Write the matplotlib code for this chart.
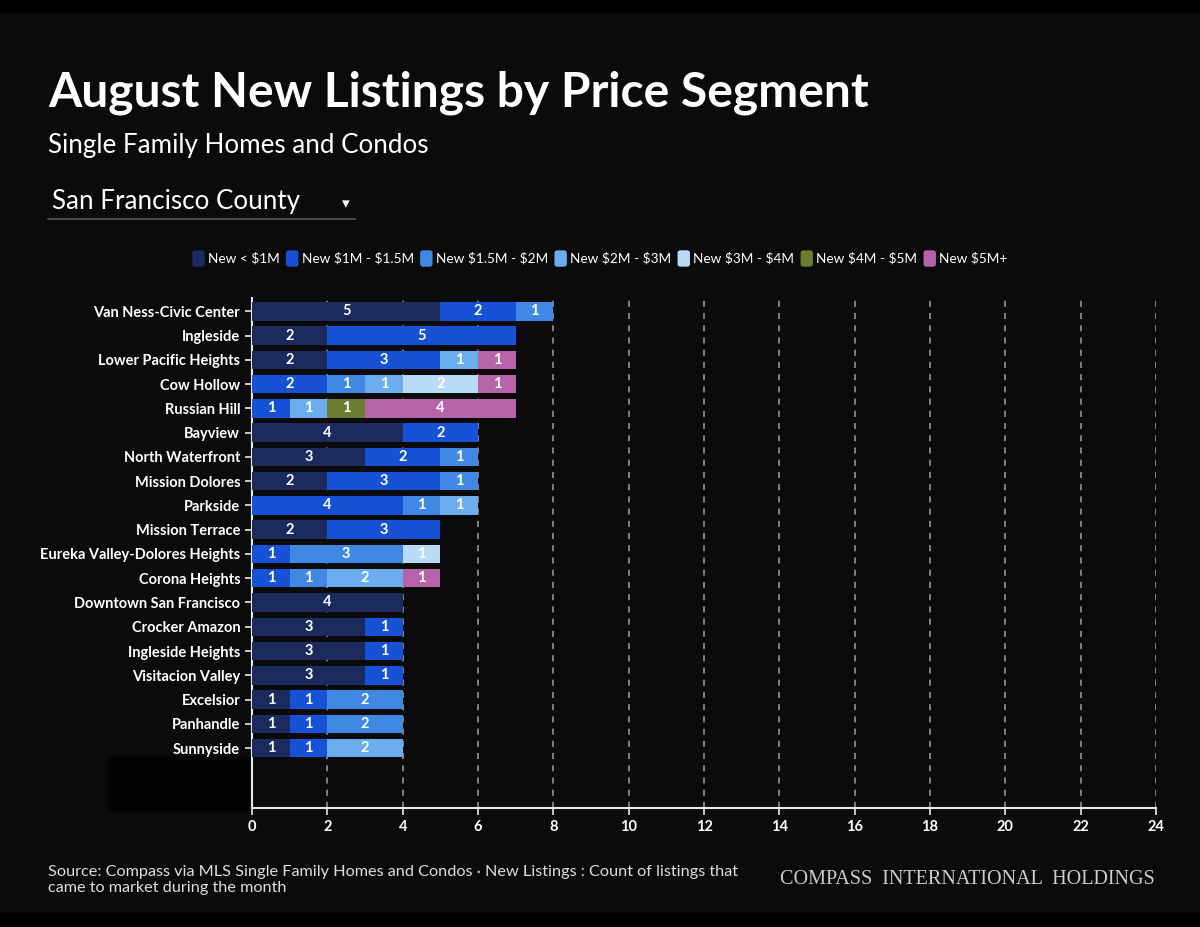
import numpy as np
import matplotlib.pyplot as plt
from matplotlib.patches import FancyBboxPatch, Rectangle
from matplotlib.lines import Line2D

neighborhoods = ['Van Ness-Civic Center', 'Ingleside', 'Lower Pacific Heights', 'Cow Hollow',
                 'Russian Hill', 'Bayview', 'North Waterfront', 'Mission Dolores', 'Parkside',
                 'Mission Terrace', 'Eureka Valley-Dolores Heights', 'Corona Heights',
                 'Downtown San Francisco', 'Crocker Amazon', 'Ingleside Heights',
                 'Visitacion Valley', 'Excelsior', 'Panhandle', 'Sunnyside']

segments = ['New < \\$1M', 'New \\$1M - \\$1.5M', 'New \\$1.5M - \\$2M', 'New \\$2M - \\$3M',
            'New \\$3M - \\$4M', 'New \\$4M - \\$5M', 'New \\$5M+']

under_1m = [5, 2, 2, 0, 0, 4, 3, 2, 0, 2, 0, 0, 4, 3, 3, 3, 1, 1, 1]
m1_to_15 = [2, 5, 3, 2, 1, 2, 2, 3, 4, 3, 1, 1, 0, 1, 1, 1, 1, 1, 1]
m15_to_2 = [1, 0, 0, 1, 0, 0, 1, 1, 1, 0, 3, 1, 0, 0, 0, 0, 2, 2, 0]
m2_to_3 = [0, 0, 1, 1, 1, 0, 0, 0, 1, 0, 0, 2, 0, 0, 0, 0, 0, 0, 2]
m3_to_4 = [0, 0, 0, 2, 0, 0, 0, 0, 0, 0, 1, 0, 0, 0, 0, 0, 0, 0, 0]
m4_to_5 = [0, 0, 0, 0, 1, 0, 0, 0, 0, 0, 0, 0, 0, 0, 0, 0, 0, 0, 0]
m5_plus = [0, 0, 1, 1, 4, 0, 0, 0, 0, 0, 0, 1, 0, 0, 0, 0, 0, 0, 0]

series = [under_1m, m1_to_15, m15_to_2, m2_to_3, m3_to_4, m4_to_5, m5_plus]
colors = ['#1b2b5e', '#1752d6', '#3f89e4', '#6cadf0', '#b9dbf8', '#6b7d2f', '#b663a9']

bg = '#0b0b0b'
font = 'Lato'

fig = plt.figure(figsize=(12, 9.27), dpi=100, facecolor=bg)

# dark frame bands top/bottom
fig.patches.append(Rectangle((0, 1 - 12 / 927), 1, 12 / 927, transform=fig.transFigure,
                             color='#000000', zorder=-2))
fig.patches.append(Rectangle((0, 0), 1, 14 / 927, transform=fig.transFigure,
                             color='#000000', zorder=-2))
fig.patches.append(Rectangle((108 / 1200, 117 / 927), 142 / 1200, 53 / 927,
                             transform=fig.transFigure, color='#030303', zorder=-2))

ax = fig.add_axes([252 / 1200, 119 / 927, 904 / 1200, 510 / 927])
ax.set_facecolor('none')

y = np.arange(len(neighborhoods))
left = np.zeros(len(neighborhoods))
for vals, col in zip(series, colors):
    vals = np.array(vals, dtype=float)
    ax.barh(y, vals, left=left, height=0.76, color=col, zorder=3)
    for yi, (l, v) in enumerate(zip(left, vals)):
        if v > 0:
            ax.text(l + v / 2, yi, str(int(v)), ha='center', va='center', color='white',
                    fontsize=10.5, fontweight='bold', family=font, zorder=4)
    left += vals

ax.set_xlim(0, 24)
ax.set_ylim(20.47, -0.55)
ax.set_xticks(range(0, 25, 2))
ax.set_yticks(y)
ax.set_yticklabels(neighborhoods)
ax.xaxis.grid(True, linestyle=(0, (4, 4)), color='#a0a0a0', linewidth=1.1, zorder=1)
ax.set_axisbelow(True)
for s in ['top', 'right']:
    ax.spines[s].set_visible(False)
for s in ['left', 'bottom']:
    ax.spines[s].set_color('#e8e8e8')
    ax.spines[s].set_linewidth(1.5)
ax.tick_params(axis='both', colors='#e8e8e8', labelcolor='white', labelsize=10.5, length=5, width=1.2)
for lab in ax.get_yticklabels() + ax.get_xticklabels():
    lab.set_family(font)
    lab.set_fontweight('bold')

# header
fig.text(48 / 1200, 1 - 93 / 927, 'August New Listings by Price Segment', color='white',
         fontsize=34.6, family=font, fontweight='bold', va='center')
fig.text(48 / 1200, 1 - 146 / 927, 'Single Family Homes and Condos', color='white',
         fontsize=18.7, family=font, va='center')
fig.text(52 / 1200, 1 - 202 / 927, 'San Francisco County', color='white',
         fontsize=18.7, family=font, va='center')
fig.add_artist(Line2D([48 / 1200, 355 / 1200], [1 - 219 / 927, 1 - 219 / 927],
                      color='#555555', linewidth=1.2))
fig.text(346 / 1200, 1 - 204 / 927, '\u25BE', color='white', fontsize=11,
         family='DejaVu Sans', ha='center', va='center')

# legend
x = 193
for name, col in zip(segments, colors):
    fig.patches.append(FancyBboxPatch((x / 1200, 1 - 266 / 927), 11 / 1200, 15 / 927,
                                      boxstyle='round,pad=0,rounding_size=0.002',
                                      transform=fig.transFigure, color=col))
    t = fig.text((x + 15) / 1200, 1 - 258 / 927, name, color='white', fontsize=9.8,
                 family=font, va='center')
    fig.canvas.draw()
    w = t.get_window_extent().width
    x = x + 15 + w + 7

# footer
fig.text(48 / 1200, 1 - 880 / 927,
         'Source: Compass via MLS Single Family Homes and Condos \u00b7 New Listings : Count of listings that\ncame to market during the month',
         color='#dddddd', fontsize=11.7, family=font, va='center', linespacing=1.12)
fig.text(1155 / 1200, 1 - 879 / 927, 'COMPASS  INTERNATIONAL  HOLDINGS',
         color='#cccccc', fontsize=14.5, family='Liberation Serif', ha='right', va='center')

fig.savefig('out.png', dpi=100, facecolor=bg)
